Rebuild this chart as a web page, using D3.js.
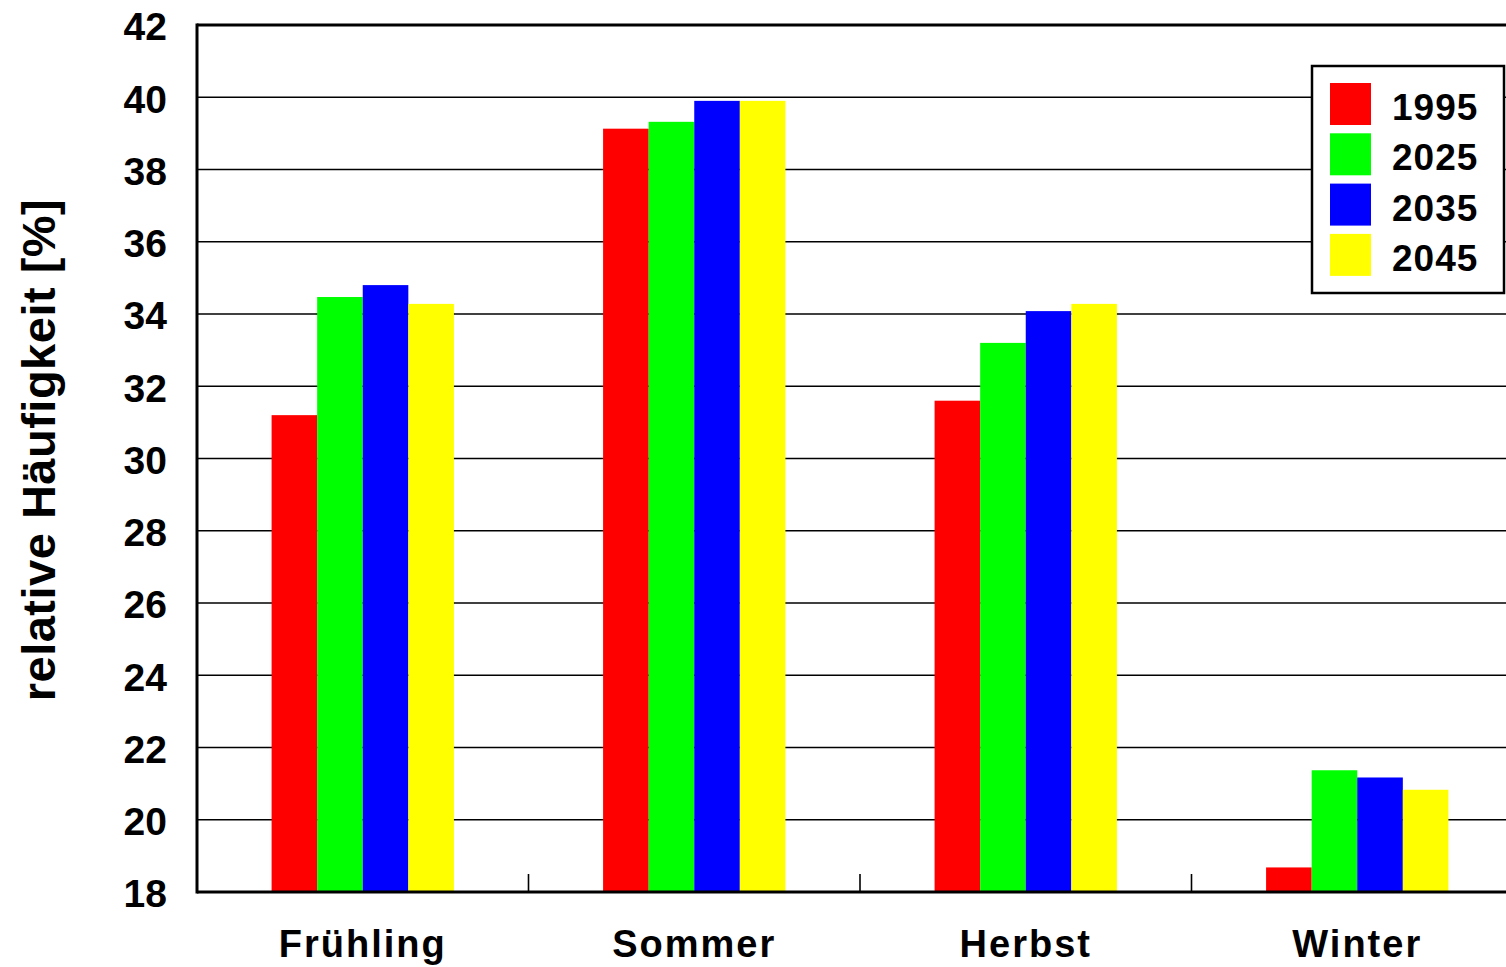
<!DOCTYPE html>
<html>
<head>
<meta charset="utf-8">
<script src="https://cdn.jsdelivr.net/npm/d3@7"></script>
<style>
  html, body { margin: 0; padding: 0; background: #fff; overflow: hidden; }
  svg { display: block; }
  text { font-family: "Liberation Sans", Arial, sans-serif; font-weight: bold; fill: #000; }
</style>
</head>
<body>
<svg id="chart" width="1506" height="967"></svg>
<script>
// Seasons and projection years
const seasons = ["Frühling", "Sommer", "Herbst", "Winter"];
const years = ["1995", "2025", "2035", "2045"];
const colors = ["#ff0000", "#00ff00", "#0000ff", "#ffff00"];

// Relative frequency [%] per season, one array per year
const v1995 = [31.2, 39.13, 31.6, 18.68];
const v2025 = [34.47, 39.32, 33.2, 21.37];
const v2035 = [34.8, 39.9, 34.08, 21.17];
const v2045 = [34.28, 39.9, 34.28, 20.83];
const seriesValues = [v1995, v2025, v2035, v2045];

const yTicks = [18, 20, 22, 24, 26, 28, 30, 32, 34, 36, 38, 40, 42];

(function () {
  const svg = d3.select("#chart");
  const plotL = 197, plotR = 1523, plotT = 25, plotB = 892;

  const x0 = d3.scaleBand().domain(seasons).range([plotL, plotR]).paddingInner(0).paddingOuter(0);
  const step = x0.bandwidth();
  const x1 = d3.scaleBand().domain(years).range([step * 0.225, step * 0.775]).padding(0);
  const y = d3.scaleLinear().domain([18, 42]).range([plotB, plotT]);

  // Horizontal gridlines
  svg.append("g")
    .selectAll("line")
    .data(yTicks.filter(t => t > 18 && t < 42))
    .join("line")
    .attr("x1", plotL).attr("x2", plotR)
    .attr("y1", d => y(d)).attr("y2", d => y(d))
    .attr("stroke", "#000").attr("stroke-width", 1.6);

  // Bars
  const groups = svg.append("g")
    .selectAll("g")
    .data(seasons)
    .join("g")
    .attr("transform", d => `translate(${x0(d)},0)`);

  groups.selectAll("rect")
    .data((s, i) => years.map((yr, j) => ({ yr, j, v: seriesValues[j][i] })))
    .join("rect")
    .attr("x", d => x1(d.yr))
    .attr("width", x1.bandwidth())
    .attr("y", d => y(d.v))
    .attr("height", d => y(18) - y(d.v))
    .attr("fill", d => colors[d.j]);

  // Category separator ticks on the baseline
  svg.append("g")
    .selectAll("line")
    .data(seasons.slice(1))
    .join("line")
    .attr("x1", d => x0(d)).attr("x2", d => x0(d))
    .attr("y1", plotB - 18).attr("y2", plotB)
    .attr("stroke", "#000").attr("stroke-width", 1.6);

  // Axes frame: left, top and bottom
  svg.append("line").attr("x1", plotL).attr("x2", plotL).attr("y1", plotT - 1.5).attr("y2", plotB + 1.5)
    .attr("stroke", "#000").attr("stroke-width", 3);
  svg.append("line").attr("x1", plotL).attr("x2", plotR).attr("y1", plotT).attr("y2", plotT)
    .attr("stroke", "#000").attr("stroke-width", 3);
  svg.append("line").attr("x1", plotL).attr("x2", plotR).attr("y1", plotB).attr("y2", plotB)
    .attr("stroke", "#000").attr("stroke-width", 3);

  // Y tick labels
  const yAxis = d3.axisLeft(y).tickValues(yTicks).tickSize(0).tickPadding(0).tickFormat(d3.format("d"));
  const ya = svg.append("g").attr("transform", `translate(${plotL - 30},0)`).call(yAxis);
  ya.select(".domain").remove();
  ya.selectAll("text")
    .attr("font-size", 39)
    .attr("font-family", "Liberation Sans, Arial, sans-serif")
    .attr("font-weight", "bold")
    .attr("dy", "0.38em")
    .attr("fill", "#000");

  // X category labels
  svg.append("g")
    .selectAll("text")
    .data(seasons)
    .join("text")
    .attr("x", d => x0(d) + step / 2)
    .attr("y", 957)
    .attr("text-anchor", "middle")
    .attr("font-size", 38)
    .attr("letter-spacing", 2)
    .text(d => d);

  // Y axis title
  svg.append("text")
    .attr("transform", "translate(55,450) rotate(-90)")
    .attr("text-anchor", "middle")
    .attr("font-size", 47)
    .attr("letter-spacing", 0.5)
    .text("relative Häufigkeit [%]");

  // Legend
  const lg = svg.append("g").attr("transform", "translate(1312,66)");
  lg.append("rect").attr("x", 0).attr("y", 0).attr("width", 192).attr("height", 227)
    .attr("fill", "#fff").attr("stroke", "#000").attr("stroke-width", 2.5);
  const items = lg.selectAll("g.item")
    .data(years)
    .join("g")
    .attr("class", "item")
    .attr("transform", (d, i) => `translate(0,${17 + i * 50.3})`);
  items.append("rect").attr("x", 18).attr("y", 0).attr("width", 41).attr("height", 42)
    .attr("fill", (d, i) => colors[i]);
  items.append("text").attr("x", 80).attr("y", 37)
    .attr("font-size", 37).attr("letter-spacing", 1)
    .text(d => d);
})();
</script>
</body>
</html>
